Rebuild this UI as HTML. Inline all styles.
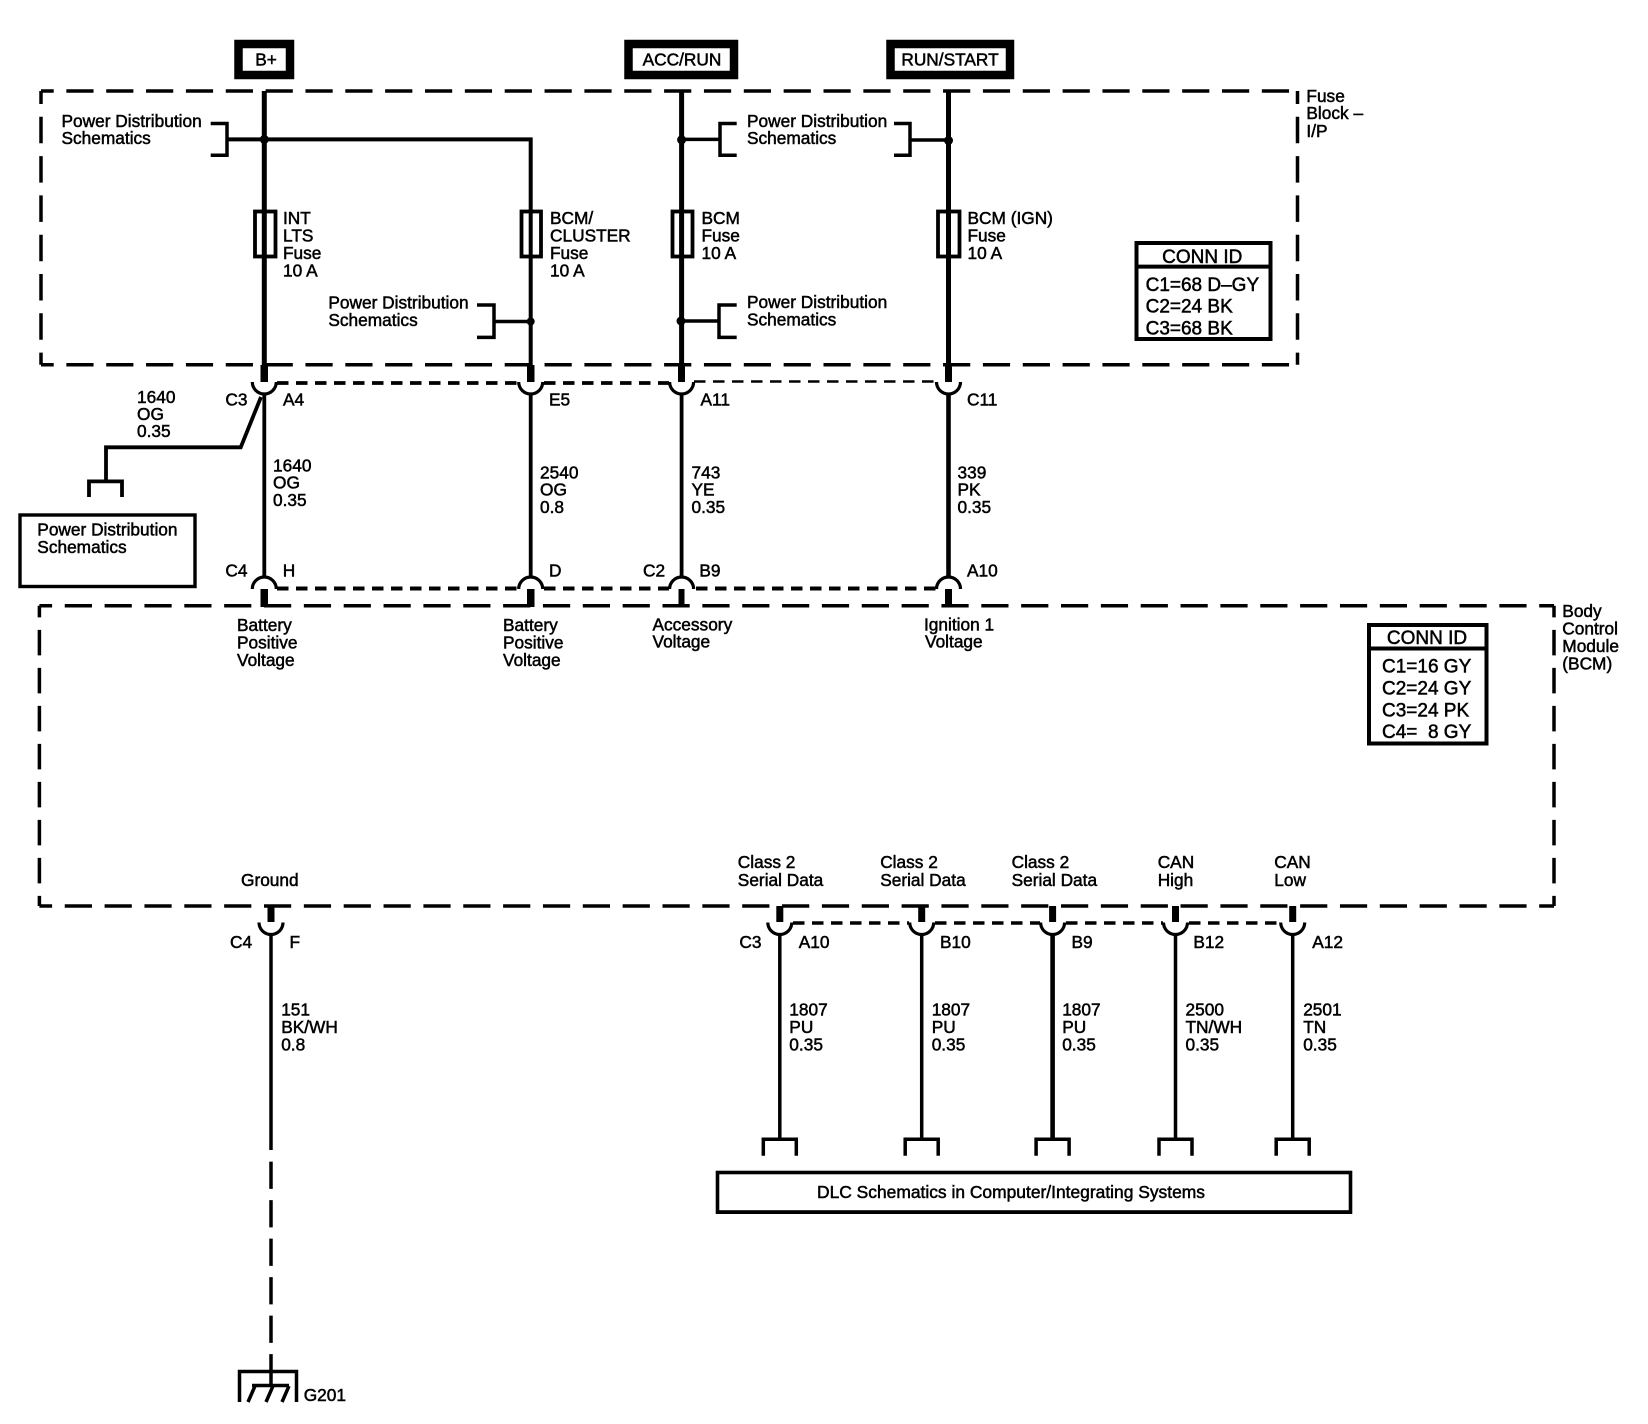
<!DOCTYPE html>
<html><head><meta charset="utf-8"><style>
html,body{margin:0;padding:0;background:#fff}
svg{display:block}
text{font-family:"Liberation Sans",sans-serif;font-size:17.3px;fill:#000;stroke:#000;stroke-width:.5}
.c{text-anchor:middle}
.b{font-size:19px}
.n{fill:none;stroke:#000;stroke-width:3.5}
</style></head><body>
<svg width="1648" height="1424" viewBox="0 0 1648 1424" xmlns="http://www.w3.org/2000/svg">
<rect width="1648" height="1424" fill="#fff" stroke="none"/>
<!-- power boxes -->
<g class="n" style="stroke-width:8.5">
<rect x="238.5" y="44" width="51.5" height="31"/>
<rect x="628.5" y="44" width="105.5" height="31"/>
<rect x="890.5" y="44" width="119.5" height="31"/>
</g>
<text class="c" x="266" y="65.5">B+</text>
<text class="c" x="682" y="65.5">ACC/RUN</text>
<text class="c" x="950" y="65.5">RUN/START</text>
<!-- dashed module outlines -->
<g class="n">
<path d="M41 91H1297.5" stroke-dasharray="27.2 12.65" stroke-dashoffset="14.5"/>
<path d="M41 364.7H1297.5" stroke-dasharray="27.2 12.65" stroke-dashoffset="14.5"/>
<path d="M41 91V364.7" stroke-dasharray="26.5 12.8" stroke-dashoffset="13.5"/>
<path d="M1297.5 91V364.7" stroke-dasharray="26.5 12.8" stroke-dashoffset="13.5"/>
<path d="M39.4 605.8H1554" stroke-dasharray="27.2 12.65" stroke-dashoffset="14.5"/>
<path d="M39.4 906H1554" stroke-dasharray="27.2 12.65" stroke-dashoffset="14.5"/>
<path d="M39.4 605.8V906" stroke-dasharray="25.5 12.5" stroke-dashoffset="13.9"/>
<path d="M1554 605.8V906" stroke-dasharray="25.5 12.5" stroke-dashoffset="13.9"/>
</g>
<!-- upper wires -->
<g class="n" style="stroke-width:5">
<path d="M264.3 91V365"/>
<path d="M681.6 91V365"/>
<path d="M948.5 91V365"/>
</g>
<path class="n" style="stroke-width:4" d="M227 139.4H530.7V365"/>
<!-- brackets -->
<g class="n">
<path d="M210.7 123.5H227V155.3H210.7"/>
<path d="M477 305H494V337.4H477M494 321.5H530"/>
<path d="M736.7 123.5H720V155.3H736.7M720 139.4H681"/>
<path d="M736.7 305H719V337.4H736.7M719 321H681"/>
<path d="M894 123.5H910V155.3H894M910 140H948"/>
</g>
<circle cx="264.3" cy="139.4" r="4.5"/><circle cx="530.7" cy="321.5" r="4"/>
<circle cx="681.6" cy="139.8" r="4.5"/><circle cx="681" cy="321" r="4.5"/><circle cx="948.5" cy="140.5" r="4.5"/>
<!-- fuses -->
<g class="n" style="stroke-width:3.8">
<rect x="255" y="211.5" width="20.5" height="45"/>
<rect x="521.5" y="211.5" width="19.5" height="45"/>
<rect x="672.5" y="211.5" width="20" height="45"/>
<rect x="938" y="211.5" width="21.5" height="45"/>
</g>
<!-- connector dashed rows -->
<g class="n">
<g stroke-dasharray="11.5 7.5" style="stroke-width:3.8">
<path d="M277 383H518M544 383H669"/>
</g>
<path d="M694 381.5H936" stroke-dasharray="11.5 7.5" style="stroke-width:2.6"/>
<g stroke-dasharray="11.5 7.5" style="stroke-width:4">
<path d="M277 588.5H518M544 588.5H669M696 588.5H936"/>
</g>
<path d="M793 923H909M935 923H1040M1066 923H1163M1189 923H1280" stroke-dasharray="11.5 7.5" style="stroke-width:3.6"/>
</g>
<!-- stubs -->
<g fill="#000">
<rect x="260.5" y="365" width="7.5" height="17"/><rect x="527" y="365" width="7.5" height="17"/>
<rect x="678" y="365" width="7" height="17"/><rect x="945" y="365" width="7" height="17"/>
<rect x="260.5" y="589" width="7.5" height="18"/><rect x="527" y="589" width="7.5" height="18"/>
<rect x="678.5" y="589" width="6" height="18"/><rect x="945" y="589" width="7" height="18"/>
<rect x="267.5" y="906" width="7" height="16"/><rect x="776.3" y="906" width="7" height="16"/>
<rect x="918.2" y="906" width="7" height="16"/><rect x="1049.1" y="906" width="7" height="16"/>
<rect x="1172" y="906" width="7" height="16"/><rect x="1289.2" y="906" width="7" height="16"/>
</g>
<!-- arcs -->
<g class="n" style="stroke-width:3.2">
<path d="M252.3 382A12 12 0 0 0 276.3 382M518.7 382A12 12 0 0 0 542.7 382M669.6 382A12 12 0 0 0 693.6 382M936.5 382A12 12 0 0 0 960.5 382"/>
<path d="M252.3 589A12 12 0 0 1 276.3 589M518.7 589A12 12 0 0 1 542.7 589M669.6 589A12 12 0 0 1 693.6 589M936.5 589A12 12 0 0 1 960.5 589"/>
<path d="M259 922.5A12 12 0 0 0 283 922.5M767.8 922.5A12 12 0 0 0 791.8 922.5M909.7 922.5A12 12 0 0 0 933.7 922.5M1040.6 922.5A12 12 0 0 0 1064.6 922.5M1163.5 922.5A12 12 0 0 0 1187.5 922.5M1280.7 922.5A12 12 0 0 0 1304.7 922.5"/>
</g>
<!-- mid wires -->
<g class="n" style="stroke-width:3.8">
<path d="M264.3 394V577M530.7 394V577M681.6 394V577"/>
<path d="M948.5 394V577" style="stroke-width:4.6"/>
<path d="M261 397L240.7 447.3H106V481.4"/>
<path d="M89 497V481.4H122V497"/>
</g>
<rect class="n" x="20" y="515" width="175" height="71.5" style="stroke-width:3.4"/>
<!-- lower wires -->
<g class="n">
<path d="M271 934V1150"/>
<path d="M271 1161.6V1370" stroke-dasharray="27.3 11.2"/>
<path d="M779.8 934V1139.3M921.7 934V1139.3M1175.5 934V1139.3M1292.7 934V1139.3"/>
<path d="M1052.6 934V1139.3" style="stroke-width:4.6"/>
<path d="M763.3 1155.7V1139.3H796.3V1155.7M905.2 1155.7V1139.3H938.2V1155.7M1036.1 1155.7V1139.3H1069.1V1155.7M1159 1155.7V1139.3H1192V1155.7M1276.2 1155.7V1139.3H1309.2V1155.7"/>
<path d="M239.5 1402V1371.5H296.5V1402" />
<path d="M252 1385.5H289M271 1370V1386"/>
<path d="M255 1386L248 1402M273 1386L266 1402M289 1386L282 1402"/>
</g>
<rect class="n" x="717.5" y="1172.5" width="633" height="39.5" style="stroke-width:3.6"/>
<path d="M716 1213H1352" stroke="#000" stroke-width="2"/>
<!-- CONN ID -->
<g class="n" style="stroke-width:4">
<rect x="1136.5" y="243" width="134" height="96"/><path d="M1136.5 266.6H1270"/>
<rect x="1369" y="625" width="117.5" height="118.5"/><path d="M1369 648.5H1486"/>
</g>
<g class="b">
<text class="c b" x="1202.3" y="263">CONN ID</text>
<text class="b" x="1145.6" y="290.8">C1=68 D–GY</text>
<text class="b" x="1145.6" y="312.6">C2=24 BK</text>
<text class="b" x="1145.6" y="334.6">C3=68 BK</text>
<text class="c b" x="1427" y="644">CONN ID</text>
<text class="b" x="1382" y="672.7">C1=16 GY</text>
<text class="b" x="1382" y="694.5">C2=24 GY</text>
<text class="b" x="1382" y="716.5">C3=24 PK</text>
<text class="b" x="1382" y="738" xml:space="preserve">C4=  8 GY</text>
</g>
<!-- labels -->
<text x="61.5" y="127">Power Distribution</text><text x="61.5" y="144">Schematics</text>
<text x="283" y="224">INT</text><text x="283" y="241.7">LTS</text><text x="283" y="259">Fuse</text><text x="283" y="276.7">10 A</text>
<text x="550" y="224">BCM/</text><text x="550" y="241.7">CLUSTER</text><text x="550" y="259">Fuse</text><text x="550" y="276.7">10 A</text>
<text x="701.5" y="224">BCM</text><text x="701.5" y="241.7">Fuse</text><text x="701.5" y="259">10 A</text>
<text x="967.5" y="224">BCM (IGN)</text><text x="967.5" y="241.7">Fuse</text><text x="967.5" y="259">10 A</text>
<text x="328.4" y="308.4">Power Distribution</text><text x="328.4" y="326">Schematics</text>
<text x="747" y="127">Power Distribution</text><text x="747" y="144">Schematics</text>
<text x="747" y="308">Power Distribution</text><text x="747" y="325.6">Schematics</text>
<text x="1306.4" y="102">Fuse</text><text x="1306.4" y="119">Block –</text><text x="1306.4" y="137">I/P</text>
<text x="137" y="403">1640</text><text x="137" y="420">OG</text><text x="137" y="437">0.35</text>
<text x="225.4" y="405.6">C3</text><text x="283" y="405.6">A4</text><text x="549" y="405.6">E5</text><text x="700.5" y="405.6">A11</text><text x="967" y="405.6">C11</text>
<text x="273" y="471.5">1640</text><text x="273" y="488.3">OG</text><text x="273" y="506">0.35</text>
<text x="540" y="478.7">2540</text><text x="540" y="495.5">OG</text><text x="540" y="513">0.8</text>
<text x="691.5" y="478.7">743</text><text x="691.5" y="495.5">YE</text><text x="691.5" y="513">0.35</text>
<text x="957.5" y="478.7">339</text><text x="957.5" y="495.5">PK</text><text x="957.5" y="513">0.35</text>
<text x="225.4" y="576.5">C4</text><text x="282.7" y="576.5">H</text><text x="549" y="576.5">D</text><text x="643" y="576.5">C2</text><text x="699.4" y="576.5">B9</text><text x="967" y="576.5">A10</text>
<text x="37.3" y="535.5">Power Distribution</text><text x="37.3" y="552.8">Schematics</text>
<text x="237" y="631">Battery</text><text x="237" y="648.5">Positive</text><text x="237" y="666">Voltage</text>
<text x="503" y="631">Battery</text><text x="503" y="648.5">Positive</text><text x="503" y="666">Voltage</text>
<text x="652.5" y="630.5">Accessory</text><text x="652.5" y="647.5">Voltage</text>
<text x="924" y="630.5">Ignition 1</text><text x="925" y="647.5">Voltage</text>
<text x="1562.3" y="617">Body</text><text x="1562.3" y="634.5">Control</text><text x="1562.3" y="652">Module</text><text x="1562.3" y="669.5">(BCM)</text>
<text x="241" y="886">Ground</text>
<text x="737.8" y="868">Class 2</text><text x="737.8" y="886">Serial Data</text>
<text x="880.2" y="868">Class 2</text><text x="880.2" y="886">Serial Data</text>
<text x="1011.6" y="868">Class 2</text><text x="1011.6" y="886">Serial Data</text>
<text x="1157.7" y="868">CAN</text><text x="1157.7" y="886">High</text>
<text x="1274.3" y="868">CAN</text><text x="1274.3" y="886">Low</text>
<text x="230" y="948">C4</text><text x="289.5" y="948">F</text><text x="739.4" y="948">C3</text><text x="798.7" y="948">A10</text>
<text x="940" y="948">B10</text><text x="1071.5" y="948">B9</text><text x="1193.4" y="948">B12</text><text x="1312.2" y="948">A12</text>
<text x="281.2" y="1015.5">151</text><text x="281.2" y="1033">BK/WH</text><text x="281.2" y="1050.5">0.8</text>
<text x="789.3" y="1015.5">1807</text><text x="789.3" y="1033">PU</text><text x="789.3" y="1050.5">0.35</text>
<text x="931.7" y="1015.5">1807</text><text x="931.7" y="1033">PU</text><text x="931.7" y="1050.5">0.35</text>
<text x="1062.2" y="1015.5">1807</text><text x="1062.2" y="1033">PU</text><text x="1062.2" y="1050.5">0.35</text>
<text x="1185.5" y="1015.5">2500</text><text x="1185.5" y="1033">TN/WH</text><text x="1185.5" y="1050.5">0.35</text>
<text x="1303.2" y="1015.5">2501</text><text x="1303.2" y="1033">TN</text><text x="1303.2" y="1050.5">0.35</text>
<text x="817" y="1198" textLength="388" lengthAdjust="spacingAndGlyphs">DLC Schematics in Computer/Integrating Systems</text>
<text x="303.7" y="1401">G201</text>
</svg>
</body></html>
